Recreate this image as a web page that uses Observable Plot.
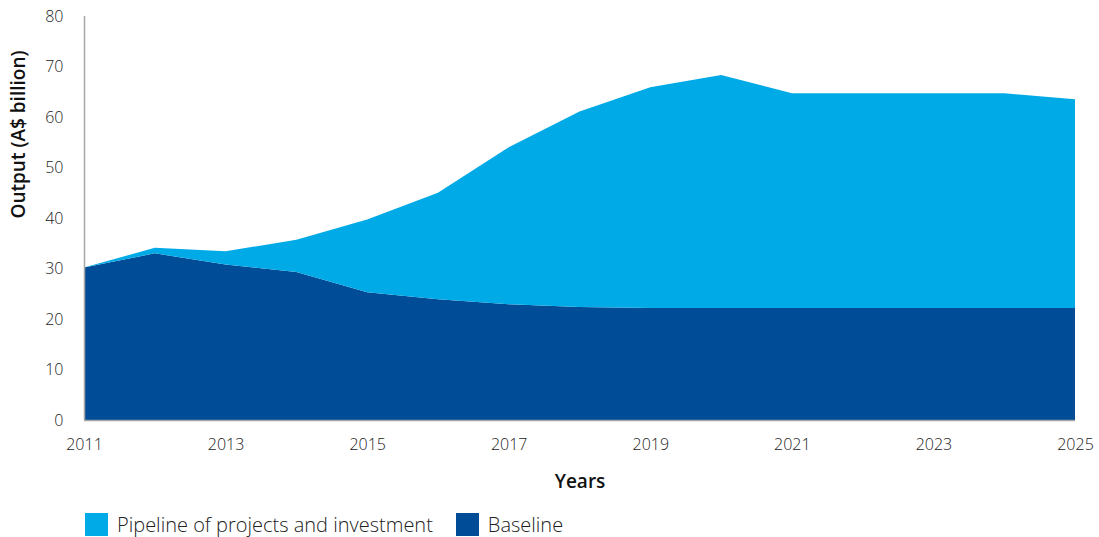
<!DOCTYPE html>
<html>
<head>
<meta charset="utf-8">
<script src="https://cdn.jsdelivr.net/npm/d3@7"></script>
<script src="https://cdn.jsdelivr.net/npm/@observablehq/plot@0.6"></script>
<style>
  html, body { margin: 0; padding: 0; background: #fff; }
  body { width: 1099px; height: 537px; overflow: hidden; font-family: "Open Sans", sans-serif; }
  #legend { display: flex; align-items: center; margin-top: 13px; padding-left: 85px; font-size: 20px; line-height: 23px; font-weight: 300; color: #222; }
  .item { display: flex; align-items: center; margin-right: 23px; }
  .sw { width: 23px; height: 23px; margin-right: 9px; }
</style>
</head>
<body>
<div id="chart"></div>
<div id="legend"></div>
<script>
const years = [2011, 2012, 2013, 2014, 2015, 2016, 2017, 2018, 2019, 2020, 2021, 2022, 2023, 2024, 2025];
const baseline = [30.2, 33.0, 30.8, 29.3, 25.3, 23.9, 22.9, 22.4, 22.2, 22.2, 22.2, 22.2, 22.2, 22.2, 22.2];
const pipeline = [0.0, 1.1, 2.6, 6.4, 14.4, 21.1, 31.1, 38.7, 43.7, 46.1, 42.5, 42.5, 42.5, 42.5, 41.3];
const seriesNames = ["Baseline", "Pipeline of projects and investment"];
const legendOrder = ["Pipeline of projects and investment", "Baseline"];
const colors = {"Baseline": "#004C97", "Pipeline of projects and investment": "#00AAE6"};
const xTicks = [2011, 2013, 2015, 2017, 2019, 2021, 2023, 2025];
const yTicks = [0, 10, 20, 30, 40, 50, 60, 70, 80];

const rows = [];
years.forEach((y, i) => {
  rows.push({year: y, series: seriesNames[0], value: baseline[i]});
  rows.push({year: y, series: seriesNames[1], value: pipeline[i]});
});

const chart = Plot.plot({
  width: 1099,
  height: 500,
  marginLeft: 84,
  marginRight: 24,
  marginTop: 16,
  marginBottom: 80,
  style: {fontFamily: "'Open Sans', sans-serif", color: "#222", background: "#fff"},
  x: {domain: [2011, 2025]},
  y: {domain: [0, 80]},
  color: {domain: seriesNames, range: seriesNames.map(s => colors[s])},
  marks: [
    Plot.areaY(rows, {x: "year", y: "value", fill: "series", order: seriesNames, curve: "linear"}),
    Plot.ruleX([2011], {stroke: "#a6a6a6", strokeWidth: 1.5}),
    Plot.ruleY([0], {stroke: "#a6a6a6", strokeWidth: 1.5}),
    Plot.axisX({ticks: xTicks, tickFormat: d => String(d), tickSize: 0, tickPadding: 18, fontSize: 16, fontWeight: 300, label: null}),
    Plot.axisY({ticks: yTicks, tickSize: 0, tickPadding: 21, fontSize: 16, fontWeight: 300, label: null}),
    Plot.text(["Years"], {frameAnchor: "bottom", dy: 67, fontSize: 19, fontWeight: 600, fill: "#111"}),
    Plot.text(["Output (A$ billion)"], {frameAnchor: "left", dx: -66, rotate: -90, fontSize: 19, fontWeight: 600, fill: "#111"})
  ]
});
document.getElementById("chart").appendChild(chart);

const legend = document.getElementById("legend");
legendOrder.forEach(name => {
  const item = document.createElement("div");
  item.className = "item";
  const sw = document.createElement("div");
  sw.className = "sw";
  sw.style.background = colors[name];
  const label = document.createElement("span");
  label.textContent = name;
  item.appendChild(sw);
  item.appendChild(label);
  legend.appendChild(item);
});
</script>
</body>
</html>
